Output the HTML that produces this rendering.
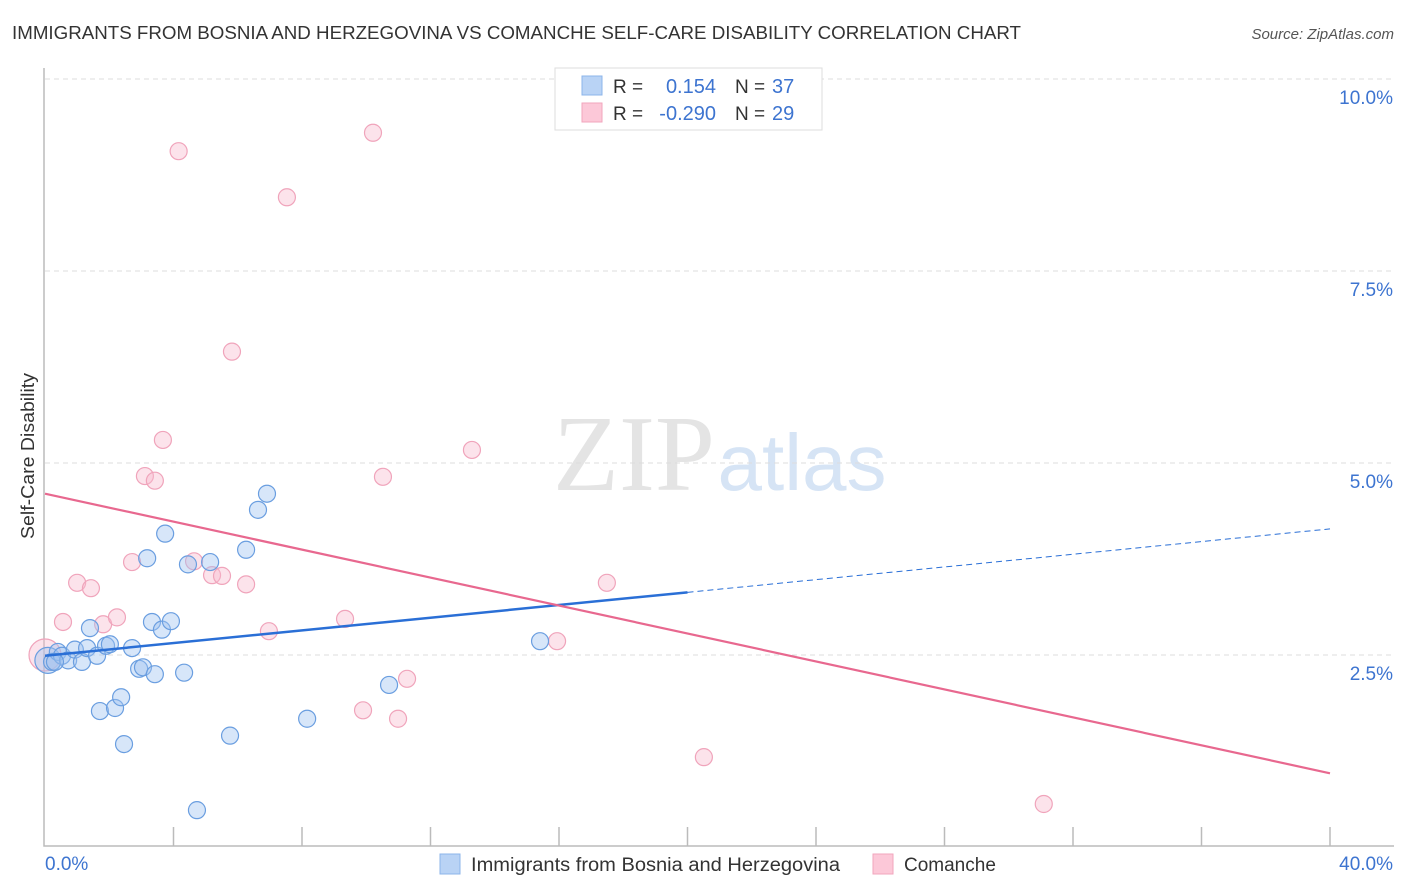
<!DOCTYPE html>
<html><head><meta charset="utf-8"><style>
body{margin:0;background:#fff;font-family:"Liberation Sans",sans-serif;}
#wrap{position:relative;width:1406px;height:892px;overflow:hidden;}
</style></head><body>
<div id="wrap">
<svg id="svg" width="1406" height="892" xmlns="http://www.w3.org/2000/svg" font-family="Liberation Sans, sans-serif">
<text x="12" y="39" font-size="18.5" fill="#333" textLength="1009" lengthAdjust="spacingAndGlyphs">IMMIGRANTS FROM BOSNIA AND HERZEGOVINA VS COMANCHE SELF-CARE DISABILITY CORRELATION CHART</text>
<text x="1394" y="39" font-size="15" fill="#555" font-style="italic" text-anchor="end">Source: ZipAtlas.com</text>
<text x="34" y="456" font-size="18" fill="#333" text-anchor="middle" textLength="166" lengthAdjust="spacingAndGlyphs" transform="rotate(-90 34 456)">Self-Care Disability</text>
<g><text x="634" y="490" font-size="108" fill="#e4e4e4" font-family="Liberation Serif, serif" text-anchor="middle">ZIP</text><text x="802" y="490" font-size="80" fill="#d6e4f5" text-anchor="middle">atlas</text></g>
<g id="grid"></g><g id="axes"></g><g id="pts"></g><g id="lines"></g>
<g>
<rect x="555" y="68" width="267" height="62" fill="#fff" stroke="#ddd"/>
<rect x="582" y="76" width="20" height="19" fill="#b9d3f5" stroke="#8cb4ea"/>
<rect x="582" y="103" width="20" height="19" fill="#fcc8d8" stroke="#f2a6bd"/>
<text x="613" y="93" font-size="19" fill="#333">R =</text><text x="716" y="93" font-size="20" fill="#3d74d0" text-anchor="end">0.154</text>
<text x="735" y="93" font-size="19" fill="#333">N =</text><text x="772" y="93" font-size="20" fill="#3d74d0">37</text>
<text x="613" y="120" font-size="19" fill="#333">R =</text><text x="716" y="120" font-size="20" fill="#3d74d0" text-anchor="end">-0.290</text>
<text x="735" y="120" font-size="19" fill="#333">N =</text><text x="772" y="120" font-size="20" fill="#3d74d0">29</text>
</g>
<g>
<rect x="440" y="854" width="20" height="20" fill="#b9d3f5" stroke="#8cb4ea"/>
<text x="471" y="871" font-size="19" fill="#333" textLength="369" lengthAdjust="spacingAndGlyphs">Immigrants from Bosnia and Herzegovina</text>
<rect x="873" y="854" width="20" height="20" fill="#fcc8d8" stroke="#f2a6bd"/>
<text x="904" y="871" font-size="19" fill="#333">Comanche</text>
</g>
</svg></div>
<script>
const yTicks=[2.5,5,7.5,10];
const yTickLabels=["2.5%","5.0%","7.5%","10.0%"];
const xTicks=[0,4,8,12,16,20,24,28,32,36,40];
const xEndLabels=["0.0%","40.0%"];
const blueX=[0.09,0.22,0.40,0.53,0.72,0.93,1.15,1.31,1.40,1.62,1.71,1.90,2.02,2.18,2.37,2.46,2.71,2.93,3.05,3.18,3.33,3.42,3.64,3.74,3.92,4.33,4.45,4.73,5.14,5.76,6.26,6.63,6.91,8.16,10.71,15.41,0.31];
const blueY=[2.43,2.41,2.54,2.49,2.43,2.57,2.41,2.59,2.85,2.49,1.77,2.62,2.64,1.81,1.95,1.34,2.59,2.32,2.34,3.76,2.93,2.25,2.83,4.08,2.94,2.27,3.68,0.48,3.71,1.45,3.87,4.39,4.60,1.67,2.11,2.68,2.41];
const pinkX=[0,0.56,1.00,1.43,1.81,2.24,2.71,3.11,3.42,3.67,4.16,4.64,5.20,5.51,5.82,6.26,6.97,7.53,9.34,9.90,10.21,10.52,10.99,11.27,13.29,15.94,17.49,20.51,31.09];
const pinkY=[2.50,2.93,3.44,3.37,2.90,2.99,3.71,4.83,4.77,5.30,9.06,3.72,3.54,3.53,6.45,3.42,2.81,8.46,2.97,1.78,9.30,4.82,1.67,2.19,5.17,2.68,3.44,1.17,0.56];
const blueTrend=[2.49,0.0413];
const pinkTrend=[4.60,-0.0910];
const X=v=>45+v/40*1285, Y=v=>847-v*76.8;
const NS="http://www.w3.org/2000/svg";
function mk(t,a,p){const e=document.createElementNS(NS,t);for(const k in a)e.setAttribute(k,a[k]);p.appendChild(e);return e;}
const grid=document.getElementById('grid'),axes=document.getElementById('axes'),pts=document.getElementById('pts'),lines=document.getElementById('lines');
yTicks.forEach((v,i)=>{
 const l=mk('line',{x1:45,x2:1394,y1:Y(v),y2:Y(v),stroke:'#ddd','stroke-dasharray':'5,4'},grid);
 
 
 const t=mk('text',{x:1393,y:Y(v)+25,'font-size':19,fill:'#3d74d0','text-anchor':'end'},axes);t.textContent=yTickLabels[i];
 
 
});
const ax=mk('path',{d:'M44,68 V846 H1394',fill:'none',stroke:'#bbb','stroke-width':1.5},axes);


xTicks.forEach(v=>{if(v===0)return;const l=mk('line',{x1:X(v),x2:X(v),y1:827,y2:846,stroke:'#bbb','stroke-width':1.5},axes);
 
 });
let t=mk('text',{x:45,y:870,'font-size':19,fill:'#3d74d0'},axes);t.textContent=xEndLabels[0];


t=mk('text',{x:1393,y:870,'font-size':19,fill:'#3d74d0','text-anchor':'end'},axes);t.textContent=xEndLabels[1];


pinkX.forEach((v,i)=>{const c=mk('circle',{cx:X(v),cy:Y(pinkY[i]),r:i===0?16:8.5,fill:'rgba(248,185,205,0.4)',stroke:'#f0a4bb','stroke-width':1.2},pts);
 
 });
blueX.forEach((v,i)=>{const c=mk('circle',{cx:X(v),cy:Y(blueY[i]),r:i===0?13:8.5,fill:'rgba(160,196,240,0.42)',stroke:'#6a9ee0','stroke-width':1.2},pts);
 
 });
const f=(tr,x)=>tr[0]+tr[1]*x;
let l=mk('line',{x1:X(0),y1:Y(f(blueTrend,0)),x2:X(20),y2:Y(f(blueTrend,20)),stroke:'#2a6fd6','stroke-width':2.5},lines);


l=mk('line',{x1:X(20),y1:Y(f(blueTrend,20)),x2:X(40),y2:Y(f(blueTrend,40)),stroke:'#2a6fd6','stroke-width':1,'stroke-dasharray':'6,4'},lines);


l=mk('line',{x1:X(0),y1:Y(f(pinkTrend,0)),x2:X(40),y2:Y(f(pinkTrend,40)),stroke:'#e8688f','stroke-width':2.2},lines);


</script>
</body></html>
